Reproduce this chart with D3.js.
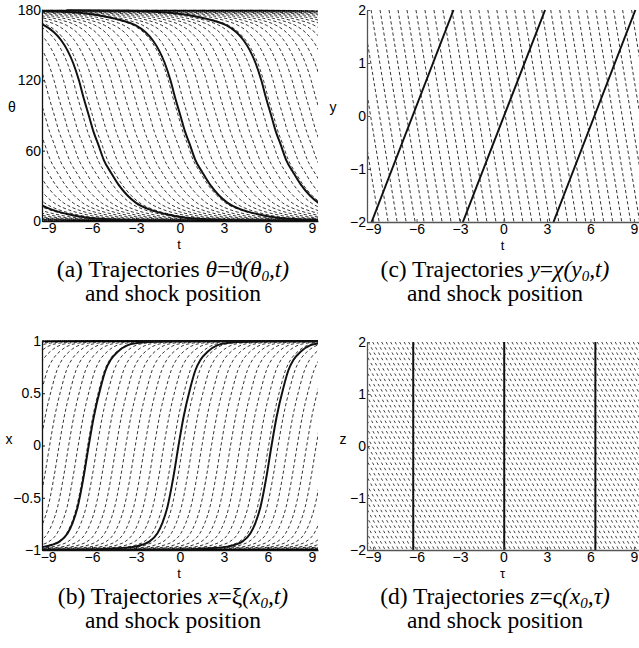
<!DOCTYPE html>
<html>
<head>
<meta charset="utf-8">
<script src="https://cdnjs.cloudflare.com/ajax/libs/d3/7.8.5/d3.min.js"></script>
<style>
html,body{margin:0;padding:0;background:#fff;}
svg{display:block;}
.tick text{font-family:"Liberation Sans",Arial,sans-serif;font-size:14px;fill:#000;}
.lab{font-family:"Liberation Sans",Arial,sans-serif;font-size:14px;fill:#000;}
.xlab{font-family:"Liberation Sans",Arial,sans-serif;font-size:13px;fill:#000;}
.cap{font-family:"Liberation Serif","Times New Roman",serif;font-size:23.5px;fill:#000;}
</style>
</head>
<body>
<svg id="fig" width="639" height="648"></svg>
<script>
// ---------------- shared ----------------
const tTicks = [-9, -6, -3, 0, 3, 6, 9];
const tExtent = [-9.42, 9.42];

// ---------------- (a) theta trajectories ----------------
const aYTicks = [0, 60, 120, 180];
// trajectory shape: [t - centre, theta]
const aProfile = [[-14,179.8],[-10,179.3],[-8,178.5],[-6.5,177],[-5,174],[-4,171],[-3.1,167],[-2.4,161],[-1.9,154],[-1.5,146],[-1.1,135],[-0.7,120],[-0.4,106],[0,89],[0.3,76],[0.6,66],[1.0,52],[1.5,41],[2.0,31],[2.6,22],[3.2,15.5],[4.2,9.5],[5.2,6],[6.5,3],[8,1.5],[10,0.7],[14,0.2]];
const aSolid = [-12.9, -6.2, 0.05, 6.25];
const aDashed = [-19.6,-18.95,-18.3,-17.65,-17.0,-16.35,-15.7,-15.05,-14.4,-13.75,-13.1,-12.45,-11.8,-11.15,-10.5,-9.85,-9.2,-8.55,-7.9,-7.25,-6.6,-5.95,-5.3,-4.65,-4.0,-3.35,-2.7,-2.05,-1.4,-0.75,-0.1,0.55,1.2,1.85,2.5,3.15,3.8,4.45,5.1,5.75,6.4,7.05,7.7,8.35,9.0,9.65,10.3,10.95,11.6,12.25,12.9,13.55,14.2,14.85,15.5,16.15,16.8,17.45,18.1,18.75,19.4];

// ---------------- (b) x trajectories ----------------
const bYTicks = [-1, -0.5, 0, 0.5, 1];
const bProfile = [[-14,-1],[-8,-0.998],[-6,-0.995],[-4.5,-0.985],[-3.1,-0.97],[-2.5,-0.95],[-2,-0.92],[-1.44,-0.84],[-1.1,-0.74],[-0.76,-0.59],[-0.35,-0.3],[0,0],[0.34,0.27],[0.82,0.56],[1.15,0.72],[1.5,0.82],[2,0.9],[2.67,0.96],[3.3,0.98],[4.04,0.99],[6,0.997],[14,1]];
const bSolid = [-6.23, -0.1, 6.25];
const bDashed = [-19.3,-18.65,-18.0,-17.35,-16.7,-16.05,-15.4,-14.75,-14.1,-13.45,-12.8,-12.15,-11.5,-10.85,-10.2,-9.55,-8.9,-8.25,-7.6,-6.95,-6.3,-5.65,-5.0,-4.35,-3.7,-3.05,-2.4,-1.75,-1.1,-0.45,0.2,0.85,1.5,2.15,2.8,3.45,4.1,4.75,5.4,6.05,6.7,7.35,8.0,8.65,9.3,9.95,10.6,11.25,11.9,12.55,13.2,13.85,14.5,15.15,15.8,16.45,17.1,17.75,18.4,19.05];

// ---------------- (c) y trajectories ----------------
const cYTicks = [-2, -1, 0, 1, 2];
const cSolid = [[-9.1, -3.45], [-2.8, 2.87], [3.45, 9.1]];   // t at y=-2, t at y=2
const cDashTop = [-11.0,-10.38,-9.76,-9.14,-8.52,-7.9,-7.28,-6.66,-6.04,-5.42,-4.8,-4.18,-3.56,-2.94,-2.32,-1.7,-1.08,-0.46,0.16,0.78,1.4,2.02,2.64,3.26,3.88,4.5,5.12,5.74,6.36,6.98,7.6,8.22,8.84,9.46]; // t at y=2
const cDashRun = 2.42;   // t shift from y=2 down to y=-2

// ---------------- (d) z trajectories ----------------
const dYTicks = [-2, -1, 0, 1, 2];
const dSolid = [-6.23, 0.05, 6.34];
const dDashTop = [-17.40,-17.09,-16.78,-16.47,-16.16,-15.85,-15.54,-15.23,-14.92,-14.61,-14.30,-13.99,-13.68,-13.37,-13.06,-12.75,-12.44,-12.13,-11.82,-11.51,-11.20,-10.89,-10.58,-10.27,-9.96,-9.65,-9.34,-9.03,-8.72,-8.41,-8.10,-7.79,-7.48,-7.17,-6.86,-6.55,-6.24,-5.93,-5.62,-5.31,-5.00,-4.69,-4.38,-4.07,-3.76,-3.45,-3.14,-2.83,-2.52,-2.21,-1.90,-1.59,-1.28,-0.97,-0.66,-0.35,-0.04,0.27,0.58,0.89,1.20,1.51,1.82,2.13,2.44,2.75,3.06,3.37,3.68,3.99,4.30,4.61,4.92,5.23,5.54,5.85,6.16,6.47,6.78,7.09,7.40,7.71,8.02,8.33,8.64,8.95,9.26];
const dDashRun = 8.0;

// ---------------- drawing ----------------
const svg = d3.select("#fig");
const minus = s => String(s).replace("-", "\u2212");

function panel(id, box, yDomain, yTicks, axisColor) {
  const x = d3.scaleLinear().domain(tExtent).range([box.x0, box.x1]);
  const y = d3.scaleLinear().domain(yDomain).range([box.y1, box.y0]);
  svg.append("clipPath").attr("id", "clip-" + id).append("rect")
    .attr("x", box.x0).attr("y", box.y0 - 1.5)
    .attr("width", box.x1 - box.x0).attr("height", box.y1 - box.y0 + 3);
  const plot = svg.append("g").attr("clip-path", `url(#clip-${id})`);
  const axes = svg.append("g");
  return { x, y, plot, axes, box, yTicks, axisColor };
}

function drawAxes(p, xlabel, ylabel, ylabPos) {
  const ax = p.axes.append("g").attr("transform", `translate(0,${p.box.y1})`)
    .call(d3.axisBottom(p.x).tickValues(tTicks).tickSizeInner(-3).tickSizeOuter(0).tickPadding(2).tickFormat(minus));
  const ay = p.axes.append("g").attr("transform", `translate(${p.box.x0},0)`)
    .call(d3.axisLeft(p.y).tickValues(p.yTicks).tickSizeInner(-3).tickSizeOuter(0).tickPadding(1).tickFormat(minus));
  [ax, ay].forEach(a => {
    a.select(".domain").attr("stroke", p.axisColor).attr("stroke-width", 1.3);
    a.selectAll(".tick line").attr("stroke", p.axisColor).attr("stroke-width", 1);
  });
  p.axes.append("text").attr("class", "xlab").attr("x", (p.box.x0 + p.box.x1) / 2 - 1).attr("y", p.box.y1 + 28)
    .attr("text-anchor", "middle").text(xlabel);
  p.axes.append("text").attr("class", "lab").attr("x", ylabPos[0]).attr("y", ylabPos[1])
    .attr("text-anchor", "middle").text(ylabel);
}

const dashStyle = sel => sel.attr("fill", "none").attr("stroke", "#000").attr("stroke-width", 0.8).attr("stroke-dasharray", "3.3,2.4");
const dashStyleD = sel => sel.attr("fill", "none").attr("stroke", "#000").attr("stroke-width", 0.75).attr("stroke-dasharray", "2.8,3.2");
const solidStyle = sel => sel.attr("fill", "none").attr("stroke", "#111").attr("stroke-width", 2);

function shiftedCurves(p, profile, centres, style) {
  const line = d3.line().x(d => p.x(d[0])).y(d => p.y(d[1])).curve(d3.curveMonotoneX);
  p.plot.append("g").selectAll("path").data(centres).join("path")
    .attr("d", c => line(profile.map(([d, v]) => [c + d, v])))
    .call(style);
}

// (a)
const pa = panel("a", { x0: 42, x1: 318, y0: 10, y1: 221 }, [0, 180], aYTicks, "#111");
shiftedCurves(pa, aProfile, aDashed, dashStyle);
shiftedCurves(pa, aProfile, aSolid, solidStyle);
drawAxes(pa, "t", "\u03b8", [12, 112]);

// (b)
const pb = panel("b", { x0: 42, x1: 318, y0: 341, y1: 550 }, [-1, 1], bYTicks, "#111");
shiftedCurves(pb, bProfile, bDashed, dashStyle);
shiftedCurves(pb, bProfile, bSolid, solidStyle);
drawAxes(pb, "t", "x", [9, 444]);

// (c)
const pc = panel("c", { x0: 367, x1: 640, y0: 10, y1: 222 }, [-2, 2], cYTicks, "#555");
pc.plot.append("g").selectAll("line").data(cDashTop).join("line")
  .attr("x1", c => pc.x(c)).attr("y1", pc.y(2))
  .attr("x2", c => pc.x(c + cDashRun)).attr("y2", pc.y(-2)).call(dashStyle);
pc.plot.append("g").selectAll("line").data(cSolid).join("line")
  .attr("x1", d => pc.x(d[0])).attr("y1", pc.y(-2))
  .attr("x2", d => pc.x(d[1])).attr("y2", pc.y(2)).call(solidStyle);
drawAxes(pc, "t", "y", [333, 112]);

// (d)
const pd = panel("d", { x0: 367, x1: 640, y0: 342, y1: 550 }, [-2, 2], dYTicks, "#555");
pd.plot.append("g").selectAll("line").data(dDashTop).join("line")
  .attr("x1", c => pd.x(c)).attr("y1", pd.y(2))
  .attr("x2", c => pd.x(c + dDashRun)).attr("y2", pd.y(-2)).call(dashStyleD);
pd.plot.append("g").selectAll("line").data(dSolid).join("line")
  .attr("x1", c => pd.x(c)).attr("y1", pd.y(-2))
  .attr("x2", c => pd.x(c)).attr("y2", pd.y(2)).call(solidStyle);
drawAxes(pd, "\u03c4", "z", [343, 444]);

// captions
const captions = [
  { cx: 173, y: 277, parts: [["(a) Trajectories ", ""], ["\u03b8", "i"], ["=", ""], ["\u03d1", ""], ["(\u03b8", "i"], ["0", "s"], [",t)", "i"]] },
  { cx: 495, y: 277, parts: [["(c) Trajectories ", ""], ["y", "i"], ["=", ""], ["\u03c7", "i"], ["(y", "i"], ["0", "s"], [",t)", "i"]] },
  { cx: 173, y: 604, parts: [["(b) Trajectories ", ""], ["x", "i"], ["=", ""], ["\u03be", ""], ["(x", "i"], ["0", "s"], [",t)", "i"]] },
  { cx: 495, y: 604, parts: [["(d) Trajectories ", ""], ["z", "i"], ["=", ""], ["\u03c2", ""], ["(x", "i"], ["0", "s"], [",\u03c4)", "i"]] }
];
captions.forEach(c => {
  const t = svg.append("text").attr("class", "cap").attr("x", c.cx).attr("y", c.y).attr("text-anchor", "middle");
  c.parts.forEach(([s, k]) => {
    const ts = t.append("tspan").text(s);
    if (k === "i") ts.attr("font-style", "italic");
    if (k === "s") ts.attr("font-style", "italic").attr("font-size", "15px").attr("dy", 4);
    if (k === "i" && s.startsWith(",")) ts.attr("dy", -4);
  });
  svg.append("text").attr("class", "cap").attr("x", c.cx).attr("y", c.y + 24).attr("text-anchor", "middle").text("and shock position");
});
</script>
</body>
</html>
